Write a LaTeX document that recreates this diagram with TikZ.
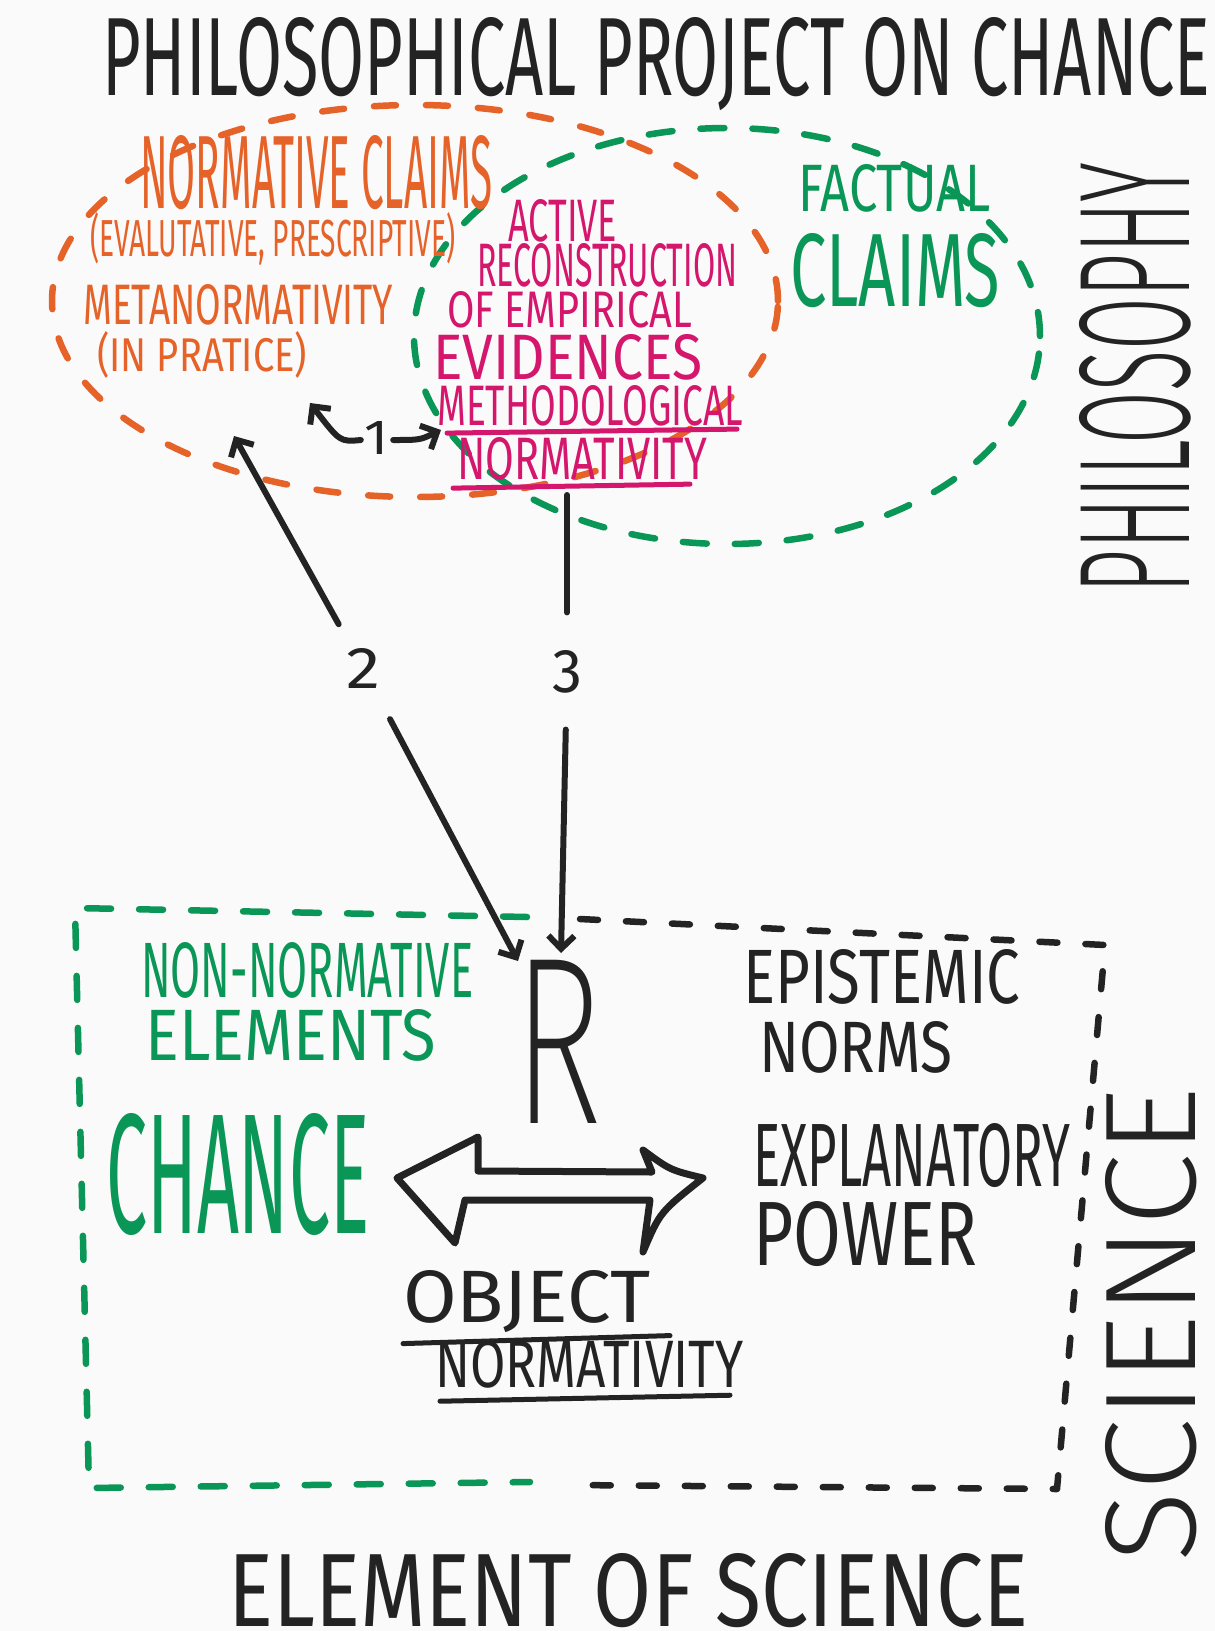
\documentclass[tikz,border=0pt]{standalone}
\usepackage{fontspec}
\setmainfont{Fira Sans}
\newfontfamily\lightf{Fira Sans}[UprightFont=* Light]
\newfontfamily\xlightf{Fira Sans}[UprightFont=* ExtraLight]
\usetikzlibrary{arrows.meta}
\definecolor{orng}{RGB}{229,98,40}
\definecolor{grn}{RGB}{10,150,86}
\definecolor{mgnt}{RGB}{212,22,108}
\definecolor{ink}{RGB}{35,35,35}
\definecolor{paper}{RGB}{250,250,250}
\newcommand\fitbox[3]{\resizebox{#1pt}{#2pt}{#3}}
\begin{document}
\begin{tikzpicture}[x=1pt,y=-1pt,line cap=round,line join=round,
  >={Straight Barb[length=13pt,width=26pt]},
  txt/.style={inner sep=0pt,anchor=north west},
  otxt/.style={txt,text=orng},
  gtxt/.style={txt,text=grn},
  mtxt/.style={txt,text=mgnt},
  ktxt/.style={txt,text=ink},
  numtxt/.style={inner sep=0pt,text=ink},
  odash/.style={draw=orng,line width=6.5pt,dash pattern=on 22pt off 30pt},
  gdash/.style={draw=grn,line width=6.5pt,dash pattern=on 24pt off 28pt},
  kdash/.style={draw=ink,line width=6.5pt,dash pattern=on 18pt off 28pt},
  conn/.style={draw=ink,line width=6pt},
  uline/.style={line width=5pt}]
\fill[paper] (0,0) rectangle (1215,1631);
\useasboundingbox (0,0) rectangle (1215,1631);

% title
\node[ktxt] (title) at (102,17) {\fitbox{1108}{78}{PHILOSOPHICAL PROJECT ON CHANCE}};

% ellipses
\draw[odash] (415,301) ellipse [x radius=363pt, y radius=196pt];
\draw[gdash] (727,336) ellipse [x radius=313pt, y radius=208pt];

% normative claims
\node[otxt] (nc) at (140,135) {\fitbox{352}{73}{NORMATIVE CLAIMS}};
\node[otxt] (ev) at (90,212) {\fitbox{365}{44}{(EVALUTATIVE, PRESCRIPTIVE)}};
\node[otxt] (mn) at (83,284) {\fitbox{310}{40}{METANORMATIVITY}};
\node[otxt] (ip) at (97,331) {\fitbox{210}{40}{(IN PRATICE)}};

% active reconstruction
\node[mtxt] (ac) at (508,199) {\fitbox{109}{42}{ACTIVE}};
\node[mtxt] (rc) at (477,243) {\fitbox{260}{43}{RECONSTRUCTION}};
\node[mtxt] (oe) at (447,291) {\fitbox{245}{36}{OF EMPIRICAL}};
\node[mtxt] (evd) at (433,334) {\fitbox{269}{45}{EVIDENCES}};
\node[mtxt] (meth) at (437,385) {\fitbox{306}{40}{METHODOLOGICAL}};
\node[mtxt] (mnorm) at (457,437) {\fitbox{250}{42}{NORMATIVITY}};
\draw[mgnt,uline] (meth.south west) ++(10,7) -- ++(290,-4);
\draw[mgnt,uline] (mnorm.south west) ++(-4,8) -- ++(237,-4);

% factual claims
\node[gtxt] (fc) at (798,164) {\fitbox{192}{47}{FACTUAL}};
\node[gtxt] (cl) at (790,233) {\fitbox{210}{73}{CLAIMS}};

% philosophy
\node[text=ink,inner sep=0pt,rotate=90] (phil) at (1135,378) {\fitbox{430}{110}{\lightf PHILOSOPHY}};

% arrow 1
\node[numtxt] (one) at (377,438) {\fitbox{24}{33}{1}};
\coordinate (t1l) at (310,403);
\coordinate (t1r) at (441,430);
\draw[conn,->] (one.west) ++(-4,2) .. controls (340,442) .. (t1l);
\draw[conn,->] (one.east) ++(4,2) .. controls (420,440) .. (t1r);

% arrow 2 and 3
\node[numtxt] (two) at (363,668) {\fitbox{34}{40}{2}};
\node[numtxt] (three) at (567,672) {\fitbox{30}{42}{3}};
\coordinate (t2up) at (234,436);
\coordinate (t2dn) at (518,961);
\coordinate (c3top) at (567,495);
\coordinate (t3dn) at (561,953);
\draw[conn,->,shorten <=27pt] (two) -- (t2up);
\draw[conn,->,shorten <=35pt] (two) -- (t2dn);
\draw[conn,shorten <=38pt] (three) -- (c3top);
\draw[conn,->,shorten <=36pt] (three) -- (t3dn);

% science box
\draw[gdash] (527,917) -- (75,908) -- (89,1488) -- (530,1482);
\draw[kdash] (580,919) -- (1105,945) -- (1057,1489) -- (572,1485);

% lower texts
\node[gtxt] (nn) at (141,942) {\fitbox{332}{55}{NON-NORMATIVE}};
\node[gtxt] (el) at (145,1009) {\fitbox{291}{51}{ELEMENTS}};
\node[gtxt] (ch) at (106,1113) {\fitbox{263}{120}{CHANCE}};
\node[ktxt] (R) at (513,960) {\fitbox{89}{163}{\xlightf R}};
\node[ktxt] (ep) at (743,949) {\fitbox{277}{54}{EPISTEMIC}};
\node[ktxt] (nm) at (759,1021) {\fitbox{193}{51}{NORMS}};
\node[ktxt] (ex) at (753,1123) {\fitbox{317}{63}{EXPLANATORY}};
\node[ktxt] (pw) at (753,1201) {\fitbox{224}{64}{POWER}};
\node[ktxt] (ob) at (403,1270) {\fitbox{247}{52}{OBJECT}};
\node[ktxt] (onorm) at (435,1340) {\fitbox{308}{47}{NORMATIVITY}};
\draw[ink,uline] (ob.south west) ++(0,11) -- ++(267,-8);
\draw[ink,uline] (onorm.south west) ++(5,13) -- ++(290,-6);

% block double arrow
\draw[ink,line width=7pt] (478,1171) -- (478,1137) -- (397,1178) -- (455,1243) -- (465,1200)
  -- (650,1200) -- (643,1252) .. controls (660,1212) .. (703,1178)
  .. controls (670,1170) .. (643,1150) -- (652,1172) -- cycle;

% science vertical + bottom title
\node[text=ink,inner sep=0pt,rotate=90] (sci) at (1151,1325) {\fitbox{475}{90}{\lightf SCIENCE}};
\node[ktxt] (eos) at (228,1553) {\fitbox{800}{73}{ELEMENT OF SCIENCE}};
\end{tikzpicture}
\end{document}
